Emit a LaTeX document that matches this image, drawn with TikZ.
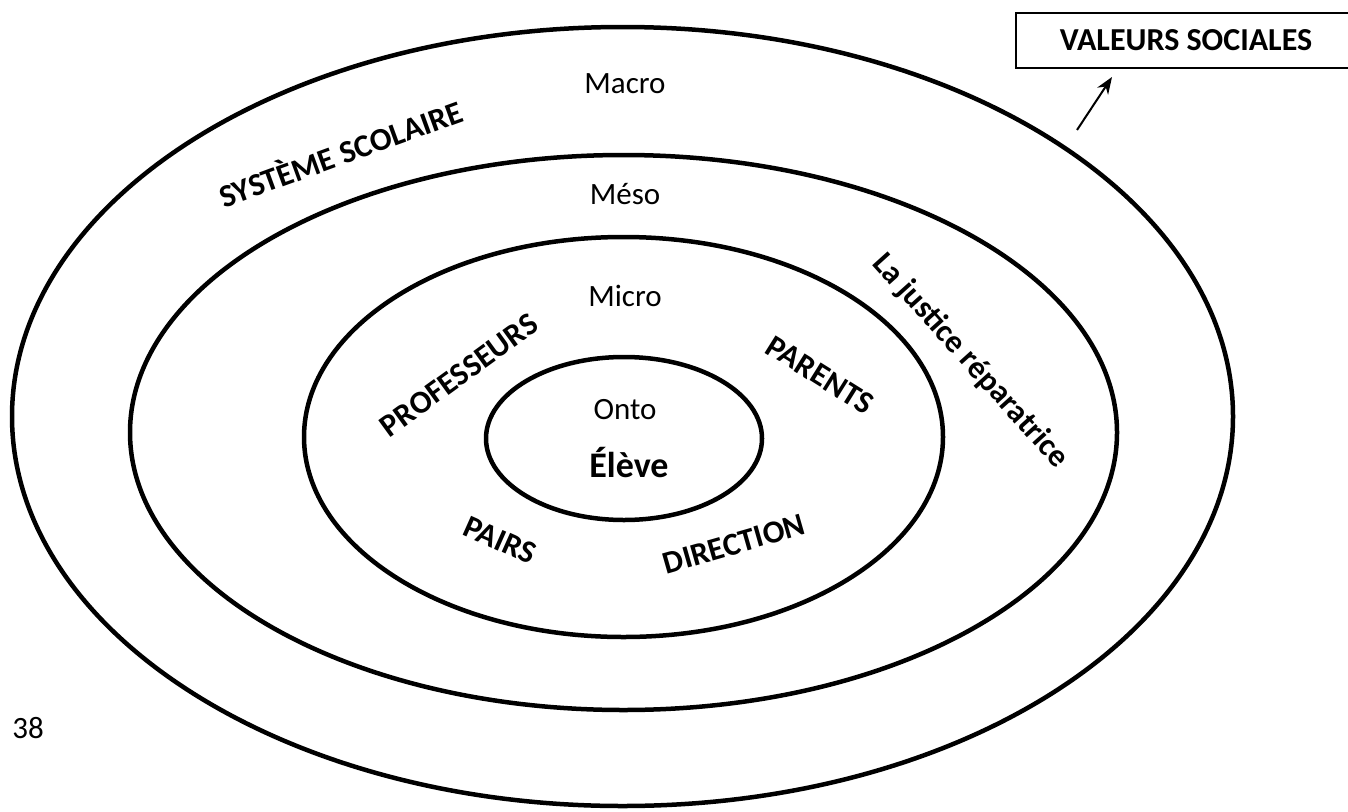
\documentclass[tikz,border=0pt]{standalone}
\usepackage{fontspec}
\setmainfont{Carlito}
\usetikzlibrary{arrows.meta}
\begin{document}
\begin{tikzpicture}[x=1pt,y=-1pt,
  ring/.style={line width=4.5pt},
  lvl/.style={font=\fontsize{31}{36}\selectfont, inner sep=0pt, anchor=base},
  capword/.style={font=\bfseries\fontsize{32}{38}\selectfont, inner sep=0pt},
]
\useasboundingbox (0,0) rectangle (1348,811);
\fill[white] (0,0) rectangle (1348,811);
\clip (0,0) rectangle (1348,811);
% rings
\draw[ring] (622.5,416.5) ellipse [x radius=610.5pt, y radius=389.5pt];
\draw[ring] (623.5,432.5) ellipse [x radius=493.5pt, y radius=277.5pt];
\draw[ring] (623.5,437) ellipse [x radius=319.5pt, y radius=200pt];
\draw[ring] (624,438.5) ellipse [x radius=138pt, y radius=81.5pt];
% level labels
\node[lvl] (macro) at (625,93) {Macro};
\node[lvl] (meso) at (625,204) {Méso};
\node[lvl] (micro) at (625,306) {Micro};
\node[lvl] (onto) at (625,419) {Onto};
\node[lvl, font=\bfseries\fontsize{36}{40}\selectfont] (eleve) at (629,477) {Élève};
% actors
\node[capword, rotate=20] (systeme) at (340,152) {SYSTÈME SCOLAIRE};
\node[capword, rotate=36] (prof) at (459,375) {PROFESSEURS};
\node[capword, rotate=-32] (parents) at (820,375) {PARENTS};
\node[capword, rotate=-24] (pairs) at (500,540) {PAIRS};
\node[capword, rotate=16] (direction) at (734,544) {DIRECTION};
\node[capword, rotate=-48, anchor=base] (justice) at (964,367) {La justice réparatrice};
% social values box
\node[draw, line width=2.5pt, minimum width=340pt, minimum height=55pt, inner sep=0pt,
      font=\bfseries\fontsize{32}{38}\selectfont] (valeurs) at (1186,40.5) {VALEURS SOCIALES};
\coordinate (arrtail) at (1077,130);
\coordinate (arrtip) at (1112,77);
\draw[line width=2pt, -{Stealth[length=17pt,width=13pt]}] (arrtail) -- (arrtip);
% page number
\node[lvl] (pagenum) at (28,738) {38};
\end{tikzpicture}
\end{document}
